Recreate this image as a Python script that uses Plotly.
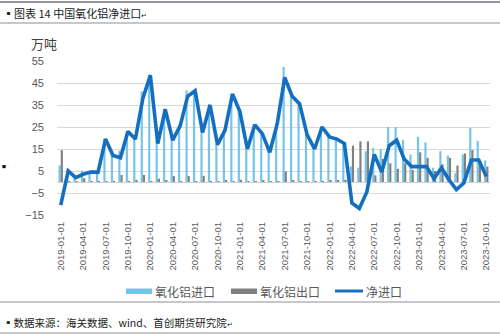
import plotly.graph_objects as go

months = [f"{y}-{m:02d}-01" for y in range(2019, 2024) for m in range(1, 13)][:58]

imports = [7.5, 5.3, 2.3, 5.2, 4.8, 4.7, 19.8, 12.3, 14.2, 23.3, 20.5, 41.2,
           48.8, 19.0, 33.5, 21.7, 25.8, 41.7, 41.8, 25.3, 35.3, 17.3, 24.0, 40.2,
           33.0, 15.2, 26.2, 22.5, 13.7, 26.7, 52.3, 39.5, 35.8, 21.8, 15.2, 25.3,
           21.0, 20.0, 18.5, 7.0, 6.5, 14.0, 15.5, 15.0, 25.0, 25.0, 19.0, 12.5,
           20.5, 18.0, 6.5, 14.0, 12.0, 4.0, 12.5, 24.5, 18.7, 9.8]
exports = [14.5, 0.3, 0.3, 1.7, 0.3, 0.2, 0.3, 0.3, 3.2, 0.3, 1.0, 3.2,
           0.3, 1.5, 0.5, 2.7, 0.3, 2.7, 0.3, 2.8, 0.3, 0.3, 0.5, 0.2,
           1.0, 0.2, 0.2, 0.5, 0.2, 0.2, 4.8, 0.5, 0.3, 0.3, 0.2, 0.3,
           0.5, 0.5, 1.0, 16.5, 18.5, 18.5, 3.0, 10.5, 8.5, 6.0, 8.5, 5.5,
           13.5, 11.0, 5.0, 8.0, 11.0, 7.5, 13.0, 14.5, 8.7, 7.0]
net = [-10.5, 5.0, 2.0, 3.5, 4.5, 4.5, 19.5, 12.0, 11.0, 23.0, 19.5, 38.0,
       48.5, 17.5, 33.0, 19.0, 25.5, 39.0, 41.5, 22.5, 35.0, 17.0, 23.5, 40.0,
       32.0, 15.0, 26.0, 22.0, 13.5, 26.5, 47.5, 39.0, 35.5, 21.5, 15.0, 25.0,
       20.5, 19.5, 17.5, -9.5, -12.0, -4.5, 12.5, 4.5, 16.5, 19.0, 10.5, 7.0,
       7.0, 7.0, 1.5, 6.5, 1.0, -3.5, -0.5, 10.0, 10.0, 2.5]

series_names = ["氧化铝进口", "氧化铝出口", "净进口"]
tick_labels = months[::3]
y_ticks = [-15, -5, 5, 15, 25, 35, 45, 55]

C_IMP = "#74c4ea"
C_EXP = "#808080"
C_NET = "#1470bf"
CJK = "Noto Sans CJK SC"

fig = go.Figure()
fig.add_trace(go.Bar(x=months, y=imports, name=series_names[0], marker_color=C_IMP,
                     marker_line_width=0))
fig.add_trace(go.Bar(x=months, y=exports, name=series_names[1], marker_color=C_EXP,
                     marker_line_width=0))
fig.add_trace(go.Scatter(x=months, y=net, name=series_names[2], mode="lines",
                         line=dict(color=C_NET, width=3.6)))

L, R, T, B = 57, 10, 61, 121
W, H = 500, 336
pw, ph = W - L - R, H - T - B

def px(x):
    return (x - L) / pw

def py(y):
    return (H - B - y) / ph

fig.update_layout(
    width=W, height=H,
    margin=dict(l=L, r=R, t=T, b=B),
    paper_bgcolor="white", plot_bgcolor="white",
    barmode="group", bargap=0.42, bargroupgap=0.0,
    showlegend=False,
    font=dict(family=CJK, color="#595959"),
)
fig.update_xaxes(
    type="category", categoryorder="array", categoryarray=months,
    tickmode="array", tickvals=tick_labels, ticktext=tick_labels,
    tickangle=-90, tickfont=dict(family="Liberation Sans", size=9.5, color="#595959"),
    showgrid=False, showline=False, ticks="", ticklabelstandoff=4,
    range=[-0.5, len(months) - 0.5],
)
fig.update_yaxes(
    range=[-15, 55], tickmode="array", tickvals=y_ticks,
    tickfont=dict(family="Liberation Sans", size=11, color="#595959"),
    showgrid=True, gridcolor="#d9d9d9", gridwidth=1,
    zeroline=True, zerolinecolor="#d0d0d0", zerolinewidth=1,
    showline=False, ticks="", ticklabelstandoff=12,
)

shapes = []
ann = []
# document frame lines
for yy, col, w in [(2, "#6b7280", 1.5), (23, "#8a8f99", 1), (302, "#8a8f99", 1), (333, "#8a8f99", 1)]:
    shapes.append(dict(type="line", xref="paper", yref="paper", x0=px(0), x1=px(500),
                       y0=py(yy), y1=py(yy), line=dict(color=col, width=w)))
ann.append(dict(xref="paper", yref="paper", x=px(1), y=py(13), xanchor="left", yanchor="middle",
                text="▪图表 14 中国氧化铝净进口<span style='font-size:7px'>↵</span>",
                showarrow=False, font=dict(family=CJK, size=11, color="#222222")))
ann.append(dict(xref="paper", yref="paper", x=px(29), y=py(43), xanchor="left", yanchor="middle",
                text="万吨", showarrow=False, font=dict(family=CJK, size=13, color="#404040")))
ann.append(dict(xref="paper", yref="paper", x=px(0), y=py(167), xanchor="left", yanchor="middle",
                text="■", showarrow=False, font=dict(family=CJK, size=4, color="#111111")))
ann.append(dict(xref="paper", yref="paper", x=px(1), y=py(322), xanchor="left", yanchor="middle",
                text="▪数据来源：海关数据、wind、首创期货研究院<span style='font-size:7px'>↵</span>",
                showarrow=False, font=dict(family=CJK, size=10.5, color="#222222")))

# manual legend
leg = [(126, 152, C_IMP, "bar", series_names[0]),
       (231, 257, C_EXP, "bar", series_names[1]),
       (335, 363, C_NET, "line", series_names[2])]
for x0, x1, col, kind, name in leg:
    if kind == "bar":
        shapes.append(dict(type="rect", xref="paper", yref="paper", x0=px(x0), x1=px(x1),
                           y0=py(294), y1=py(288.5), fillcolor=col, line=dict(width=0)))
    else:
        shapes.append(dict(type="line", xref="paper", yref="paper", x0=px(x0), x1=px(x1),
                           y0=py(291), y1=py(291), line=dict(color=col, width=3)))
    ann.append(dict(xref="paper", yref="paper", x=px(x1 + 1), y=py(291), xanchor="left",
                    yanchor="middle", text=name, showarrow=False,
                    font=dict(family=CJK, size=12, color="#595959")))

fig.update_layout(shapes=shapes, annotations=ann)
fig.write_html("out.html")
